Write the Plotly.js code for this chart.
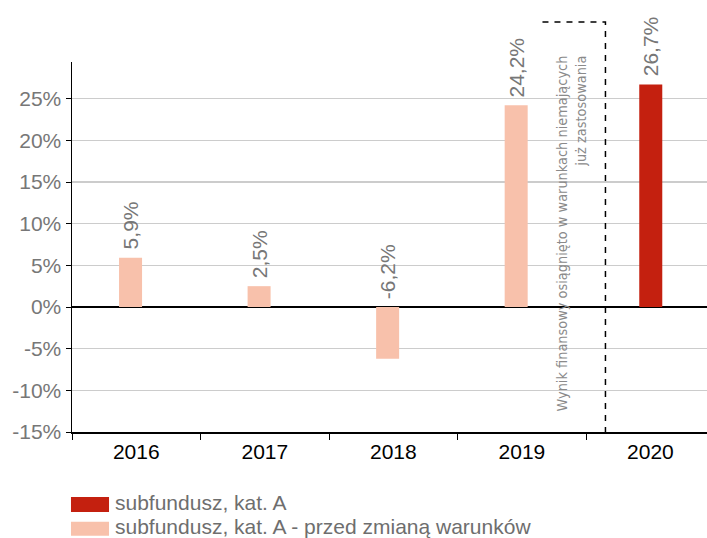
<!DOCTYPE html>
<html>
<head>
<meta charset="utf-8">
<script src="https://cdn.plot.ly/plotly-3.0.1.min.js"></script>
<style>html,body{margin:0;padding:0;background:#fff;}#chart{width:707px;height:538px;}</style>
</head>
<body>
<div id="chart"></div>
<script>
// ---- data ----
var categories = ['2016', '2017', '2018', '2019', '2020'];
var beforeYears = ['2016', '2017', '2018', '2019'];
var beforeValues = [5.9, 2.5, -6.2, 24.2];
var afterYears = ['2020'];
var afterValues = [26.7];
var yTickVals = [-15, -10, -5, 0, 5, 10, 15, 20, 25];
var seriesNames = ['subfundusz, kat. A', 'subfundusz, kat. A - przed zmianą warunków'];
var noteText = 'Wynik finansowy osiągnięto w warunkach niemających<br>już zastosowania';

// ---- styles ----
var RED = '#C4200F', PINK = '#F8C1AB';
var BAR_W = 0.179, PINK_OFF = -0.134, RED_OFF = -0.087;
var FONT = 'Liberation Sans, Arial, sans-serif';

function fmt(v) { return v.toFixed(1).replace('.', ',') + '%'; }

var traces = [
  {type: 'bar', x: beforeYears, y: beforeValues, name: seriesNames[1],
   marker: {color: PINK}, width: BAR_W, offset: PINK_OFF, hoverinfo: 'none'},
  {type: 'bar', x: afterYears, y: afterValues, name: seriesNames[0],
   marker: {color: RED}, width: BAR_W, offset: RED_OFF, hoverinfo: 'none'}
];

var annotations = [];
function addLabels(xs, vs, off) {
  xs.forEach(function (c, i) {
    annotations.push({
      x: categories.indexOf(c) + off + BAR_W / 2, y: Math.max(vs[i], 0),
      xref: 'x', yref: 'y', text: fmt(vs[i]), showarrow: false,
      textangle: -90, xanchor: 'center', yanchor: 'bottom', yshift: 6,
      font: {family: FONT, size: 21, color: '#777777'}
    });
  });
}
addLabels(beforeYears, beforeValues, PINK_OFF);
addLabels(afterYears, afterValues, RED_OFF);

annotations.push({
  x: 3.386, y: 0.535, xref: 'x', yref: 'paper', text: noteText, showarrow: false,
  textangle: -90, align: 'right', xanchor: 'center', yanchor: 'middle',
  font: {family: 'Liberation Sans Narrow, DejaVu Sans Condensed, sans-serif', size: 14.4, color: '#8a8a8a'}
});

// legend (manual)
var legendRows = [
  {name: seriesNames[0], color: RED, y0: -0.216, y1: -0.1757, ty: -0.1905},
  {name: seriesNames[1], color: PINK, y0: -0.2803, y1: -0.2424, ty: -0.2541}
];
var shapes = [
  {type: 'path', xref: 'x', yref: 'paper', path: 'M3.16,1.108 L3.65,1.108 L3.65,0',
   line: {color: '#000', width: 1.5, dash: '6px,6px'}}
];
legendRows.forEach(function (r) {
  shapes.push({type: 'rect', xref: 'paper', yref: 'paper', x0: -0.0016, x1: 0.0583,
    y0: r.y0, y1: r.y1, fillcolor: r.color, line: {width: 0}});
  annotations.push({x: 0.0661, y: r.ty, xref: 'paper', yref: 'paper', text: r.name,
    showarrow: false, xanchor: 'left', yanchor: 'middle', borderpad: 0,
    font: {family: FONT, size: 21, color: '#6e6e6e'}});
});

var layout = {
  width: 707, height: 538,
  margin: {l: 72, r: 0, t: 62, b: 106},
  paper_bgcolor: '#fff', plot_bgcolor: '#fff',
  showlegend: false, barmode: 'overlay',
  font: {family: FONT},
  xaxis: {type: 'category', categoryorder: 'array', categoryarray: categories,
    range: [-0.5, 4.44], showgrid: false, zeroline: false,
    showline: true, linecolor: '#000', linewidth: 1.5,
    ticks: 'outside', tickson: 'boundaries', ticklen: 6, tickcolor: '#000', tickwidth: 1,
    tickfont: {family: FONT, size: 21, color: '#000'}},
  yaxis: {range: [-15, 29.4], tickvals: yTickVals,
    ticktext: yTickVals.map(function (v) { return v + '%'; }),
    showgrid: true, gridcolor: '#cccccc', gridwidth: 1.5,
    zeroline: true, zerolinecolor: '#000', zerolinewidth: 1.5,
    showline: true, linecolor: '#000', linewidth: 1.5,
    ticks: 'outside', ticklen: 5, tickcolor: '#000', tickwidth: 1,
    tickfont: {family: FONT, size: 21, color: '#777777'}},
  annotations: annotations, shapes: shapes
};

Plotly.newPlot('chart', traces, layout, {displayModeBar: false, staticPlot: true});
</script>
</body>
</html>
